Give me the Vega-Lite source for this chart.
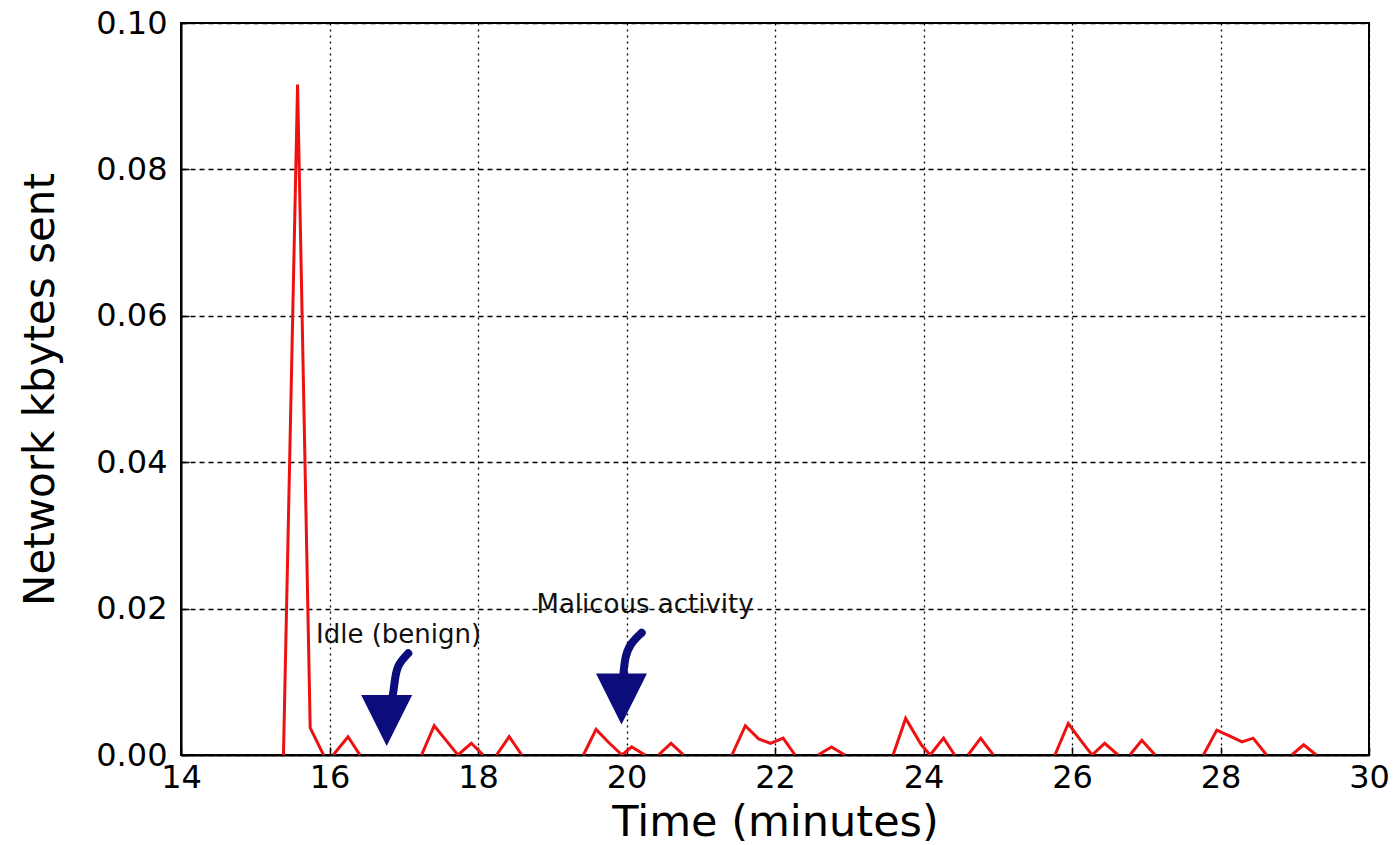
{
  "$schema": "https://vega.github.io/schema/vega-lite/v6.json",
  "width": 1188,
  "height": 732,
  "autosize": "none",
  "padding": {"left": 181, "top": 23, "right": 30, "bottom": 90},
  "background": "white",
  "config": {
    "font": "DejaVu Sans",
    "view": {"stroke": "black", "strokeWidth": 2},
    "axis": {
      "domainColor": "black",
      "domainWidth": 2,
      "tickColor": "black",
      "tickWidth": 1.5,
      "tickSize": -8,
      "labelColor": "black",
      "labelFont": "DejaVu Sans",
      "labelFontSize": 32,
      "titleFont": "DejaVu Sans",
      "titleFontWeight": "normal",
      "titleColor": "black",
      "gridColor": "black",
      "gridOpacity": 1,
      "gridWidth": 1.3
    }
  },
  "datasets": {
    "traffic": [
      {"seg": 1, "t": 15.38, "v": 0},
      {"seg": 1, "t": 15.57, "v": 0.0916},
      {"seg": 1, "t": 15.74, "v": 0.0037},
      {"seg": 1, "t": 15.92, "v": 0},
      {"seg": 2, "t": 16.05, "v": 0},
      {"seg": 2, "t": 16.25, "v": 0.0025},
      {"seg": 2, "t": 16.41, "v": 0},
      {"seg": 3, "t": 17.24, "v": 0},
      {"seg": 3, "t": 17.41, "v": 0.004},
      {"seg": 3, "t": 17.57, "v": 0.002},
      {"seg": 3, "t": 17.73, "v": 0},
      {"seg": 3, "t": 17.91, "v": 0.0016},
      {"seg": 3, "t": 18.07, "v": 0},
      {"seg": 4, "t": 18.25, "v": 0},
      {"seg": 4, "t": 18.42, "v": 0.0025},
      {"seg": 4, "t": 18.59, "v": 0},
      {"seg": 5, "t": 19.42, "v": 0},
      {"seg": 5, "t": 19.59, "v": 0.0035},
      {"seg": 5, "t": 19.76, "v": 0.0017},
      {"seg": 5, "t": 19.94, "v": 0},
      {"seg": 5, "t": 20.07, "v": 0.0011},
      {"seg": 5, "t": 20.25, "v": 0},
      {"seg": 6, "t": 20.43, "v": 0},
      {"seg": 6, "t": 20.6, "v": 0.0016},
      {"seg": 6, "t": 20.77, "v": 0},
      {"seg": 7, "t": 21.42, "v": 0},
      {"seg": 7, "t": 21.6, "v": 0.004},
      {"seg": 7, "t": 21.78, "v": 0.0022},
      {"seg": 7, "t": 21.94, "v": 0.0016},
      {"seg": 7, "t": 22.11, "v": 0.0023},
      {"seg": 7, "t": 22.27, "v": 0},
      {"seg": 8, "t": 22.58, "v": 0},
      {"seg": 8, "t": 22.76, "v": 0.0011},
      {"seg": 8, "t": 22.94, "v": 0},
      {"seg": 9, "t": 23.59, "v": 0},
      {"seg": 9, "t": 23.76, "v": 0.005},
      {"seg": 9, "t": 23.97, "v": 0.0014},
      {"seg": 9, "t": 24.09, "v": 0},
      {"seg": 9, "t": 24.27, "v": 0.0023},
      {"seg": 9, "t": 24.42, "v": 0},
      {"seg": 10, "t": 24.6, "v": 0},
      {"seg": 10, "t": 24.77, "v": 0.0023},
      {"seg": 10, "t": 24.94, "v": 0},
      {"seg": 11, "t": 25.77, "v": 0},
      {"seg": 11, "t": 25.95, "v": 0.0043},
      {"seg": 11, "t": 26.11, "v": 0.0021},
      {"seg": 11, "t": 26.27, "v": 0},
      {"seg": 11, "t": 26.44, "v": 0.0016},
      {"seg": 11, "t": 26.62, "v": 0},
      {"seg": 12, "t": 26.78, "v": 0},
      {"seg": 12, "t": 26.94, "v": 0.002},
      {"seg": 12, "t": 27.12, "v": 0},
      {"seg": 13, "t": 27.77, "v": 0},
      {"seg": 13, "t": 27.95, "v": 0.0034},
      {"seg": 13, "t": 28.12, "v": 0.0026},
      {"seg": 13, "t": 28.29, "v": 0.0018},
      {"seg": 13, "t": 28.44, "v": 0.0023},
      {"seg": 13, "t": 28.62, "v": 0},
      {"seg": 14, "t": 28.96, "v": 0},
      {"seg": 14, "t": 29.12, "v": 0.0014},
      {"seg": 14, "t": 29.29, "v": 0}
    ],
    "shafts": [
      {"arrow": "idle", "t": 16.8, "v": 0.0062},
      {"arrow": "idle", "t": 16.86, "v": 0.0082},
      {"arrow": "idle", "t": 16.882, "v": 0.0107},
      {"arrow": "idle", "t": 16.927, "v": 0.0125},
      {"arrow": "idle", "t": 17.061, "v": 0.0139},
      {"arrow": "mal", "t": 19.94, "v": 0.0089},
      {"arrow": "mal", "t": 19.957, "v": 0.0109},
      {"arrow": "mal", "t": 19.98, "v": 0.0134},
      {"arrow": "mal", "t": 20.047, "v": 0.0152},
      {"arrow": "mal", "t": 20.205, "v": 0.0167}
    ],
    "heads": [
      {"arrow": "idle", "t": 16.77, "v": 0.00471},
      {"arrow": "mal", "t": 19.933, "v": 0.00764}
    ],
    "notes": [
      {"label": "Idle (benign)", "t": 15.818, "v": 0.0153},
      {"label": "Malicous activity", "t": 18.788, "v": 0.0194}
    ]
  },
  "encoding": {
    "x": {
      "field": "t",
      "type": "quantitative",
      "scale": {"domain": [14, 30], "nice": false, "zero": false},
      "axis": {
        "title": "Time (minutes)",
        "titleFontSize": 43,
        "titlePadding": 8,
        "values": [14, 16, 18, 20, 22, 24, 26, 28, 30],
        "format": "d",
        "labelPadding": 15,
        "labelFlush": false,
        "gridDash": [2, 4]
      }
    },
    "y": {
      "field": "v",
      "type": "quantitative",
      "scale": {"domain": [0, 0.1], "nice": false},
      "axis": {
        "title": "Network kbytes sent",
        "titleFontSize": 42,
        "titlePadding": 33,
        "values": [0, 0.02, 0.04, 0.06, 0.08, 0.1],
        "format": ".2f",
        "labelPadding": 22,
        "labelFlush": false,
        "gridDash": [5, 4]
      }
    }
  },
  "layer": [
    {
      "data": {"name": "traffic"},
      "mark": {"type": "line", "color": "#ee1111", "strokeWidth": 3, "clip": true, "strokeJoin": "miter"},
      "encoding": {"detail": {"field": "seg", "type": "nominal"}}
    },
    {
      "data": {"name": "shafts"},
      "mark": {"type": "line", "color": "#0c0c7c", "strokeWidth": 8, "strokeCap": "round", "interpolate": "basis"},
      "encoding": {"detail": {"field": "arrow", "type": "nominal"}}
    },
    {
      "data": {"name": "heads"},
      "mark": {"type": "point", "shape": "M -1 -1 L 1 -1 L 0 1 Z", "size": 2600, "filled": true, "color": "#0c0c7c", "opacity": 1}
    },
    {
      "data": {"name": "notes"},
      "mark": {"type": "text", "align": "left", "baseline": "alphabetic", "fontSize": 26, "font": "DejaVu Sans", "color": "#111111"},
      "encoding": {"text": {"field": "label", "type": "nominal"}}
    }
  ]
}
